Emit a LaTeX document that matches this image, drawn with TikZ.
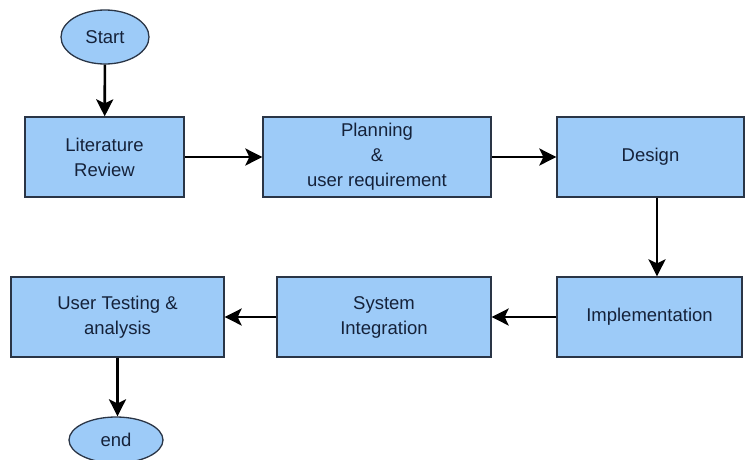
\documentclass[tikz,border=0pt]{standalone}
\usepackage{fontspec}
\setmainfont{Liberation Sans}
\usetikzlibrary{shapes.geometric,arrows.meta,calc}
\definecolor{boxfill}{HTML}{9DCBF8}
\definecolor{boxline}{HTML}{2A3546}
\definecolor{txt}{HTML}{15223A}
\tikzset{
  stepbox/.style={draw=boxline, line width=1.3pt, fill=boxfill, rectangle,
    minimum height=80pt, inner sep=0pt, align=center, text=txt,
    font=\fontsize{18.5}{25}\selectfont},
  term/.style={draw=boxline, line width=1.3pt, fill=boxfill, ellipse,
    inner sep=0pt, text=txt, font=\fontsize{18.5}{25}\selectfont},
  arr/.style={line width=2.6pt, black,
    -{Stealth[length=17pt, width=17pt, inset=4pt]}}
}
\begin{document}
\begin{tikzpicture}[x=1pt,y=-1pt]
  \useasboundingbox (0,0) rectangle (746,459);
  % top row
  \node[term, minimum width=88pt, minimum height=54pt] (start) at (105,37) {Start};
  \node[stepbox, minimum width=159pt] (lit) at (104.5,157) {Literature\\Review};
  \node[stepbox, minimum width=228pt] (plan) at (377,157) {Planning\\\&\\user requirement};
  \node[stepbox, minimum width=187pt] (design) at (650.5,157) {Design};
  % bottom row
  \node[stepbox, minimum width=185pt] (impl) at (649.5,317) {Implementation};
  \node[stepbox, minimum width=214pt] (sys) at (384,317) {System\\Integration};
  \node[stepbox, minimum width=213pt] (test) at (117.5,317) {User Testing \&\\analysis};
  \node[term, minimum width=94pt, minimum height=46pt] (end) at (116,440) {end};
  % connectors
  \draw[arr] (start) -- (lit);
  \draw[arr] (lit) -- (plan);
  \draw[arr] (plan) -- (design);
  \draw[arr] ([xshift=6.5pt]design.south) -- ([xshift=6.5pt]design.south |- impl.north);
  \draw[arr] (impl) -- (sys);
  \draw[arr] (sys) -- (test);
  \draw[arr] (test.south) -- (test.south |- end.north);
\end{tikzpicture}
\end{document}
